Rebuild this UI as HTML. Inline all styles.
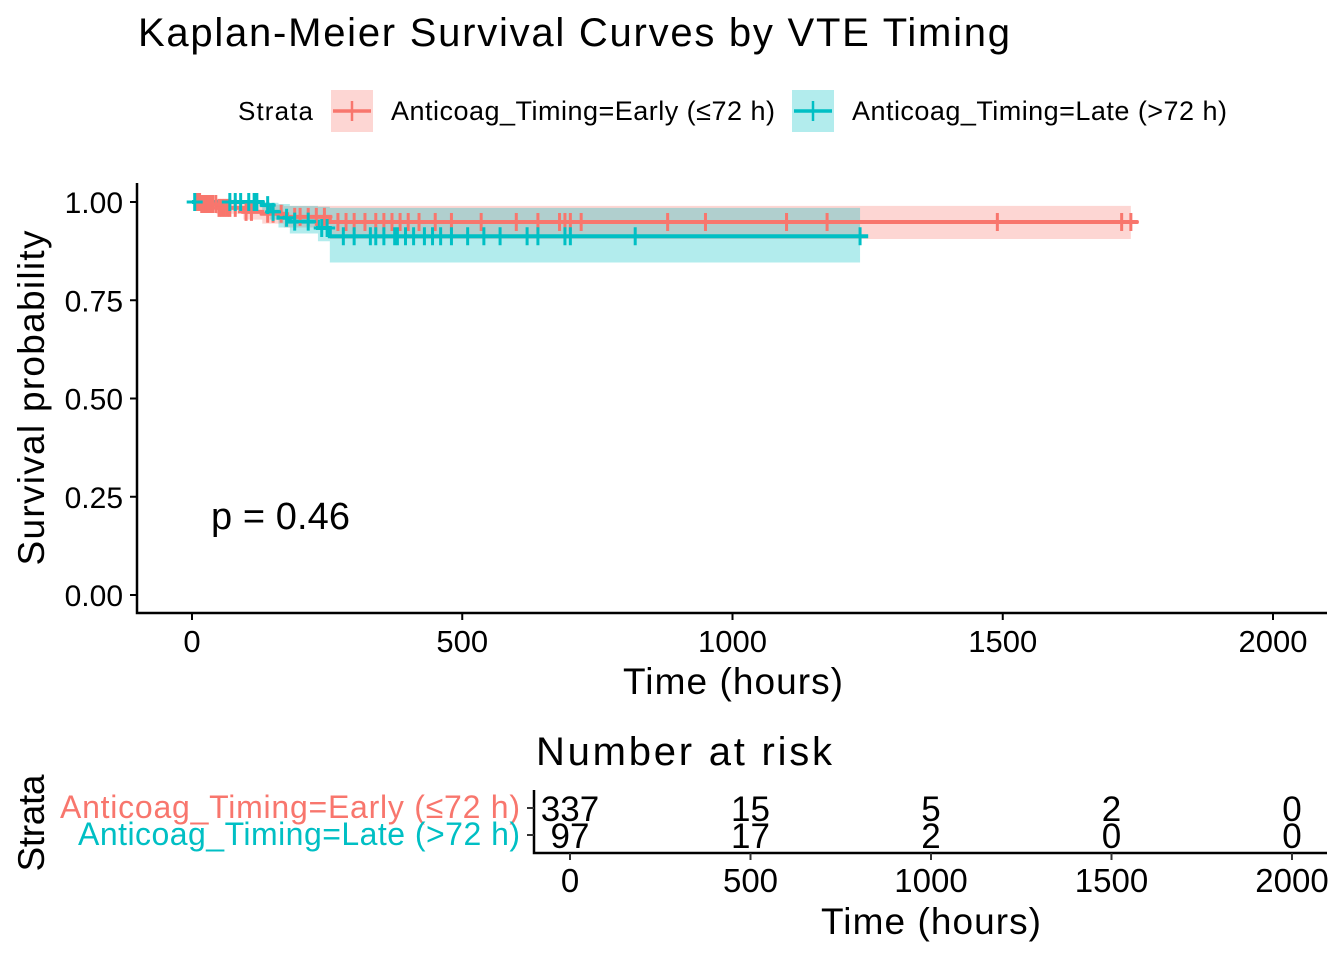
<!DOCTYPE html>
<html><head><meta charset="utf-8"><style>
body{margin:0;background:#fff}
svg{display:block;font-family:"Liberation Sans","DejaVu Sans",sans-serif}
</style></head><body>
<svg id="c" width="1344" height="960" viewBox="0 0 1344 960">
<text x="138" y="46" font-size="40" textLength="872">Kaplan-Meier Survival Curves by VTE Timing</text>
<g>
<text x="238" y="120" font-size="26" textLength="75">Strata</text>
<g>
<rect x="331" y="90" width="42" height="42" fill="#F8766D" fill-opacity="0.3"/>
<line x1="333" y1="111" x2="371" y2="111" stroke="#F8766D" stroke-width="3.5"/>
<line x1="352" y1="101" x2="352" y2="121" stroke="#F8766D" stroke-width="2.5"/>
<text x="391" y="120" font-size="27" textLength="384">Anticoag_Timing=Early (≤72 h)</text></g>
<g>
<rect x="792" y="90" width="42" height="42" fill="#00BFC4" fill-opacity="0.3"/>
<line x1="794" y1="111" x2="832" y2="111" stroke="#00BFC4" stroke-width="3.5"/>
<line x1="813" y1="101" x2="813" y2="121" stroke="#00BFC4" stroke-width="2.5"/>
<text x="852" y="120" font-size="27" textLength="375">Anticoag_Timing=Late  (&gt;72 h)</text></g>
</g>
<g id="plot"></g>
<text x="211" y="529" font-size="38" textLength="139">p = 0.46</text>
<text x="733" y="694" font-size="37" text-anchor="middle" textLength="220">Time (hours)</text>
<text transform="translate(44,398) rotate(-90)" font-size="37" text-anchor="middle" textLength="335">Survival probability</text>
<text x="684" y="765" font-size="40" text-anchor="middle" textLength="296">Number at risk</text>
<text transform="translate(44,823) rotate(-90)" font-size="37" text-anchor="middle" textLength="97">Strata</text>
<text x="520" y="818" font-size="32" fill="#F8766D" text-anchor="end" textLength="460">Anticoag_Timing=Early (≤72 h)</text>
<text x="520" y="845" font-size="32" fill="#00BFC4" text-anchor="end" textLength="442">Anticoag_Timing=Late (&gt;72 h)</text>
<text x="931" y="934" font-size="37" text-anchor="middle" textLength="220">Time (hours)</text>
<g id="risk"></g>
</svg>
<script>
const xTicks=[0,500,1000,1500,2000];
const yTicks=[0,0.25,0.5,0.75,1];
const yTickLabels=["0.00","0.25","0.50","0.75","1.00"];
const earlyTimes=[0,15,45,95,130,170,255,1750];
const earlySurv=[1,0.995,0.985,0.975,0.97,0.962,0.949,0.949];
const earlyLower=[1,0.985,0.97,0.955,0.945,0.935,0.906,0.906];
const earlyUpper=[1,1,0.998,0.995,0.993,0.99,0.99,0.99];
const lateTimes=[0,130,144,160,181,233,255,1251];
const lateSurv=[1,0.992,0.975,0.96,0.95,0.934,0.913,0.913];
const lateLower=[1,0.97,0.955,0.935,0.92,0.9,0.846,0.846];
const lateUpper=[1,1,0.998,0.995,0.99,0.988,0.985,0.985];
const earlyCensor=[10,14,18,22,25,30,34,38,44,50,55,60,65,70,80,100,110,140,150,165,190,200,215,230,245,270,285,300,320,340,355,370,385,400,420,450,480,535,600,640,680,690,700,720,880,950,1100,1175,1490,1720,1737];
const lateCensor=[5,70,80,90,105,115,120,140,150,175,190,215,240,250,280,300,330,340,355,375,380,395,410,430,445,460,480,510,540,570,620,640,690,700,820,1236];
const riskTimes=[0,500,1000,1500,2000];
const riskEarly=[337,15,5,2,0];
const riskLate=[97,17,2,0,0];
const NS="http://www.w3.org/2000/svg";
const X=t=>192+t*(1273-192)/2000;
const Y=s=>595-s*393;
const RX=t=>570+t*(1292-570)/2000;
function mk(p,tag,a){const e=document.createElementNS(NS,tag);for(const k in a)e.setAttribute(k,a[k]);p.appendChild(e);return e;}
const g=document.getElementById('plot');
function band(ts,lo,hi,end,col,name){let d="M"+X(ts[0])+","+Y(hi[0]);for(let i=1;i<ts.length;i++){d+="H"+X(Math.min(ts[i],end))+"V"+Y(hi[i]);}
d+="H"+X(end)+"V"+Y(lo[lo.length-1]);for(let i=ts.length-1;i>0;i--){d+="H"+X(ts[i])+"V"+Y(lo[i-1]);}d+="H"+X(ts[0])+"Z";
const e=mk(g,'path',{d:d,fill:col,'fill-opacity':0.3});

}
function step(ts,s,col,name){let d="M"+X(ts[0])+","+Y(s[0]);for(let i=1;i<ts.length;i++){d+="H"+X(ts[i])+"V"+Y(s[i]);}
const e=mk(g,'path',{d:d,fill:'none',stroke:col,'stroke-width':4});

}
function sAt(ts,s,t){let v=s[0];for(let i=0;i<ts.length;i++)if(ts[i]<=t)v=s[i];return v;}
function cens(c,ts,s,col,name){for(const t of c){const x=X(t),y=Y(sAt(ts,s,t));
const e=mk(g,'path',{d:`M${x-8},${y}H${x+8}M${x},${y-9}V${y+9}`,stroke:col,'stroke-width':3});

}}
band(earlyTimes,earlyLower,earlyUpper,1737,'#F8766D','ci-early');
band(lateTimes,lateLower,lateUpper,1236,'#00BFC4','ci-late');
step(earlyTimes,earlySurv,'#F8766D','curve-early');
step(lateTimes,lateSurv,'#00BFC4','curve-late');
cens(earlyCensor,earlyTimes,earlySurv,'#F8766D','censor-early');
cens(lateCensor,lateTimes,lateSurv,'#00BFC4','censor-late');
let e=mk(g,'path',{d:'M137,183V613H1327',fill:'none',stroke:'#000','stroke-width':2.5});


yTicks.forEach((v,i)=>{mk(g,'line',{x1:130,x2:137,y1:Y(v),y2:Y(v),stroke:'#000','stroke-width':2});
const t=mk(g,'text',{x:123,y:Y(v)+11,'font-size':30,'text-anchor':'end'});t.textContent=yTickLabels[i];

});
xTicks.forEach(v=>{mk(g,'line',{x1:X(v),x2:X(v),y1:613,y2:620,stroke:'#000','stroke-width':2});
const t=mk(g,'text',{x:X(v),y:652,'font-size':31,'text-anchor':'middle'});t.textContent=v;

});
const r=document.getElementById('risk');
e=mk(r,'path',{d:'M534,790V853H1327',fill:'none',stroke:'#000','stroke-width':2.5});


[808,835].forEach(y=>mk(r,'line',{x1:527,x2:534,y1:y,y2:y,stroke:'#333','stroke-width':2}));
riskTimes.forEach((v,i)=>{
mk(r,'line',{x1:RX(v),x2:RX(v),y1:853,y2:860,stroke:'#333','stroke-width':2});
let t=mk(r,'text',{x:RX(v),y:892,'font-size':33,'text-anchor':'middle'});t.textContent=v;


t=mk(r,'text',{x:RX(v),y:821,'font-size':35,'text-anchor':'middle'});t.textContent=riskEarly[i];


t=mk(r,'text',{x:RX(v),y:848,'font-size':35,'text-anchor':'middle'});t.textContent=riskLate[i];

});
</script>
</body></html>
